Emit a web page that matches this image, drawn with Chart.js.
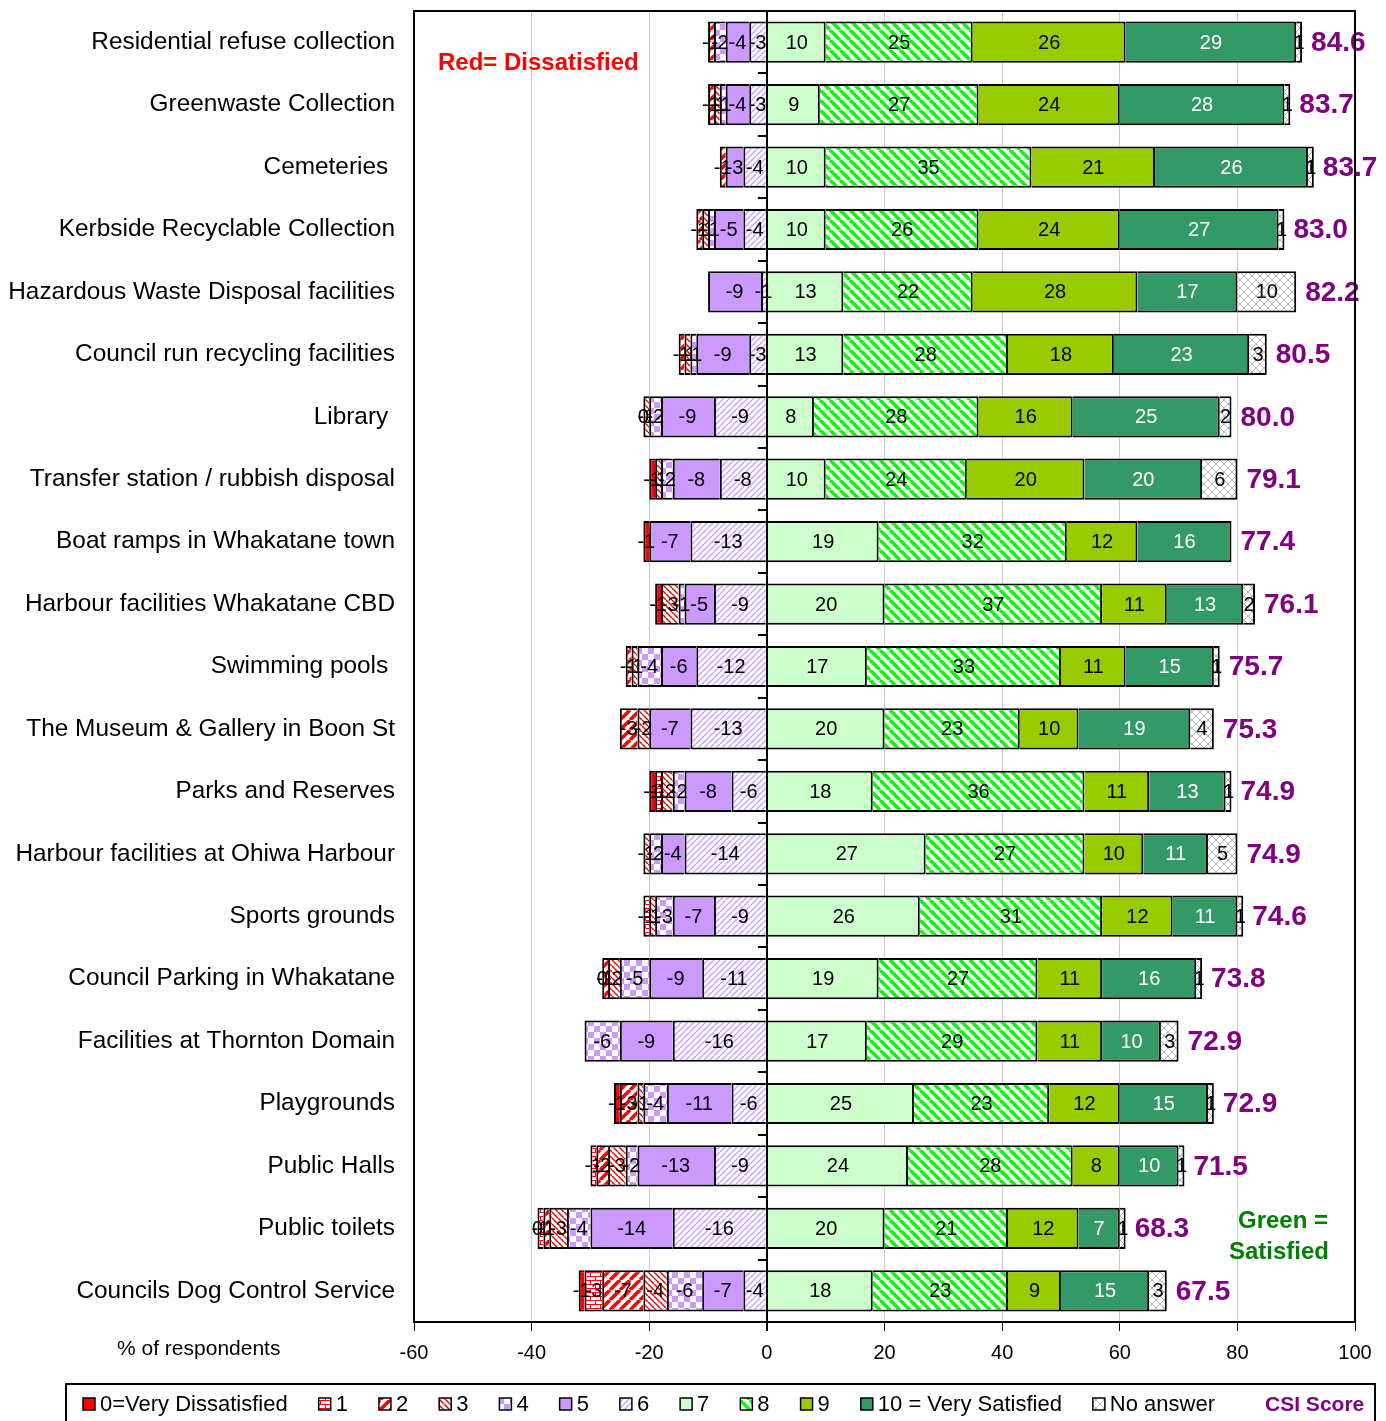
<!DOCTYPE html>
<html lang="en">
<head>
<meta charset="UTF-8">
<title>Satisfaction with council services</title>
<script src="https://cdn.jsdelivr.net/npm/chart.js@4.4.1/dist/chart.umd.min.js"></script>
<style>
	html, body { margin: 0; padding: 0; background: #fff; }
	canvas { display: block; }
</style>
</head>
<body>
<canvas id="pizarra" width="1386" height="1421"></canvas>
<script>
	// services, ordered by CSI score
	const servicios = ['Residential refuse collection', 'Greenwaste Collection', 'Cemeteries ',
		'Kerbside Recyclable Collection', 'Hazardous Waste Disposal facilities', 'Council run recycling facilities',
		'Library ', 'Transfer station / rubbish disposal', 'Boat ramps in Whakatane town',
		'Harbour facilities Whakatane CBD', 'Swimming pools ', 'The Museum & Gallery in Boon St',
		'Parks and Reserves', 'Harbour facilities at Ohiwa Harbour', 'Sports grounds',
		'Council Parking in Whakatane', 'Facilities at Thornton Domain', 'Playgrounds', 'Public Halls',
		'Public toilets', 'Councils Dog Control Service']

	// % of respondents per score (dissatisfied scores are negative)
	const s0 = [null, null, null, null, null, null, null, -1, -1, -1, null, null, -1, null, null, 0, null, -1, null, 0, -1]
	const s1 = [null, null, null, null, null, null, null, null, null, null, null, null, -1, null, -1, null, null, null, -1, -1, -3]
	const s2 = [-1, -1, -1, -1, null, -1, 0, null, null, null, -1, -3, null, null, null, -1, null, -3, -2, -1, -7]
	const s3 = [null, -1, null, -1, null, -1, -1, -1, null, -3, -1, -2, -2, -1, -1, -2, null, -1, -3, -3, -4]
	const s4 = [-2, -1, null, -1, null, -1, -2, -2, null, -1, -4, null, -2, -2, -3, -5, -6, -4, -2, -4, -6]
	const s5 = [-4, -4, -3, -5, -9, -9, -9, -8, -7, -5, -6, -7, -8, -4, -7, -9, -9, -11, -13, -14, -7]
	const s6 = [-3, -3, -4, -4, -1, -3, -9, -8, -13, -9, -12, -13, -6, -14, -9, -11, -16, -6, -9, -16, -4]
	const s7 = [10, 9, 10, 10, 13, 13, 8, 10, 19, 20, 17, 20, 18, 27, 26, 19, 17, 25, 24, 20, 18]
	const s8 = [25, 27, 35, 26, 22, 28, 28, 24, 32, 37, 33, 23, 36, 27, 31, 27, 29, 23, 28, 21, 23]
	const s9 = [26, 24, 21, 24, 28, 18, 16, 20, 12, 11, 11, 10, 11, 10, 12, 11, 11, 12, 8, 12, 9]
	const s10 = [29, 28, 26, 27, 17, 23, 25, 20, 16, 13, 15, 19, 13, 11, 11, 16, 10, 15, 10, 7, 15]
	const sinRespuesta = [1, 1, 1, 1, 10, 3, 2, 6, null, 2, 1, 4, 1, 5, 1, 1, 3, 1, 1, 1, 3]
	const csi = [84.6, 83.7, 83.7, 83.0, 82.2, 80.5, 80.0, 79.1, 77.4, 76.1, 75.7, 75.3, 74.9, 74.9, 74.6,
		73.8, 72.9, 72.9, 71.5, 68.3, 67.5]

	const ejeX = [-60, -40, -20, 0, 20, 40, 60, 80, 100]

	const FUENTE = "'Liberation Sans', Arial, sans-serif"

	// --- fill patterns ---
	const patron = (w, h, dibujar) => {
		const c = document.createElement('canvas')
		c.width = w
		c.height = h
		const g = c.getContext('2d')
		g.fillStyle = '#fff'
		g.fillRect(0, 0, w, h)
		dibujar(g, w, h)
		return g.createPattern(c, 'repeat')
	}
	const rayas = (color, s, lw, sube) => patron(s, s, (g) => {
		g.strokeStyle = color
		g.lineWidth = lw
		for (let k = -1; k <= 1; k++) {
			g.beginPath()
			if (sube) { g.moveTo(k * s, s); g.lineTo(k * s + s, 0) }
			else { g.moveTo(k * s, 0); g.lineTo(k * s + s, s) }
			g.stroke()
		}
	})

	const ladrillo = patron(10, 8, (g) => {
		g.fillStyle = '#ff0000'
		g.fillRect(0, 0, 10, 1)
		g.fillRect(0, 4, 10, 1)
		g.fillRect(0, 0, 1, 4)
		g.fillRect(5, 4, 1, 4)
	})
	const cuadros = patron(12, 12, (g) => {
		g.fillStyle = '#cc99ff'
		g.fillRect(0, 0, 6, 6)
		g.fillRect(6, 6, 6, 6)
	})
	const trama = patron(8, 8, (g) => {
		g.strokeStyle = '#b4b4b4'
		g.lineWidth = 1
		g.beginPath()
		g.moveTo(0, 0); g.lineTo(8, 8)
		g.moveTo(8, 0); g.lineTo(0, 8)
		g.stroke()
	})

	// series in stacking order: score 6 sits next to zero on the left side
	const series = [
		{ nombre: '6', datos: s6, fondo: rayas('#c9a2ff', 6, 1.5, true), orden: 6 },
		{ nombre: '5', datos: s5, fondo: '#cc99ff', orden: 5 },
		{ nombre: '4', datos: s4, fondo: cuadros, orden: 4 },
		{ nombre: '3', datos: s3, fondo: rayas('#ff0000', 6, 1.5, false), orden: 3 },
		{ nombre: '2', datos: s2, fondo: rayas('#ff0000', 10, 3.5, true), orden: 2 },
		{ nombre: '1', datos: s1, fondo: ladrillo, orden: 1 },
		{ nombre: '0=Very Dissatisfied', datos: s0, fondo: '#ff0000', orden: 0 },
		{ nombre: '7', datos: s7, fondo: '#ccffcc', orden: 7 },
		{ nombre: '8', datos: s8, fondo: rayas('#00ff00', 10, 3.5, false), orden: 8 },
		{ nombre: '9', datos: s9, fondo: '#99cc00', orden: 9 },
		{ nombre: '10 = Very Satisfied', datos: s10, fondo: '#339966', orden: 10, texto: '#fff' },
		{ nombre: 'No answer', datos: sinRespuesta, fondo: trama, orden: 11 }
	]

	// value labels, CSI scores, frame and the loose texts
	const extras = {
		id: 'extras',
		afterDatasetsDraw(chart) {
			const ctx = chart.ctx
			const area = chart.chartArea
			const x = chart.scales.x
			const y = chart.scales.y
			ctx.save()

			// value in each segment
			ctx.font = '20px ' + FUENTE
			ctx.textAlign = 'center'
			ctx.textBaseline = 'middle'
			chart.data.datasets.forEach((ds, i) => {
				const meta = chart.getDatasetMeta(i)
				ctx.fillStyle = ds.texto || '#000'
				meta.data.forEach((bar, j) => {
					const v = ds.data[j]
					if (v === null || v === undefined) return
					ctx.fillText(String(v), (bar.x + bar.base) / 2, bar.y + 1)
				})
			})

			// CSI score at the end of each bar
			ctx.font = 'bold 28px ' + FUENTE
			ctx.fillStyle = '#800080'
			ctx.textAlign = 'left'
			servicios.forEach((s, j) => {
				let total = 0
				chart.data.datasets.forEach(ds => { if (ds.data[j] > 0) total += ds.data[j] })
				ctx.fillText(csi[j].toFixed(1), x.getPixelForValue(total) + 9, y.getPixelForValue(j) + 1)
			})

			// plot frame
			ctx.strokeStyle = '#000'
			ctx.lineWidth = 2
			ctx.strokeRect(area.left, area.top, area.right - area.left, area.bottom - area.top)

			// category ticks on the zero line
			const x0 = x.getPixelForValue(0)
			const paso = (area.bottom - area.top) / servicios.length
			ctx.beginPath()
			for (let k = 0; k <= servicios.length; k++) {
				const yy = Math.round(area.top + k * paso)
				ctx.moveTo(x0 - 9, yy)
				ctx.lineTo(x0, yy)
			}
			ctx.stroke()

			ctx.font = 'bold 24px ' + FUENTE
			ctx.fillStyle = '#ff0000'
			ctx.fillText('Red= Dissatisfied', 438, 63)
			ctx.fillStyle = '#008000'
			ctx.textAlign = 'center'
			ctx.fillText('Green =', 1283, 1221)
			ctx.fillText('Satisfied', 1279, 1252)

			ctx.font = '21px ' + FUENTE
			ctx.fillStyle = '#000'
			ctx.textAlign = 'left'
			ctx.fillText('% of respondents', 117, 1349)

			ctx.restore()
		},
		afterDraw(chart) {
			// legend row inside a box along the bottom
			const ctx = chart.ctx
			ctx.save()
			ctx.strokeStyle = '#000'
			ctx.lineWidth = 2
			ctx.strokeRect(66, 1384, 1309, 60)
			ctx.font = '22px ' + FUENTE
			ctx.textBaseline = 'middle'
			ctx.textAlign = 'left'
			const yc = 1404
			let xx = 83
			const ordenados = chart.data.datasets.slice().sort((a, b) => a.orden - b.orden)
			ordenados.forEach(ds => {
				ctx.fillStyle = ds.backgroundColor
				ctx.fillRect(xx, yc - 6, 12, 12)
				ctx.lineWidth = 1.5
				ctx.strokeRect(xx, yc - 6, 12, 12)
				ctx.fillStyle = '#000'
				ctx.fillText(ds.label, xx + 17, yc + 1)
				xx += 17 + ctx.measureText(ds.label).width + 31
			})
			ctx.font = 'bold 21px ' + FUENTE
			ctx.fillStyle = '#800080'
			ctx.fillText('CSI Score', xx + 19, yc + 1)
			ctx.restore()
		}
	}

	const graficar = () => {
		const g = document.getElementById('pizarra')
		new Chart(g, {
			type: 'bar',
			data: {
				labels: servicios,
				datasets: series.map(s => ({
					label: s.nombre,
					data: s.datos,
					backgroundColor: s.fondo,
					borderColor: '#000',
					borderWidth: 2,
					barPercentage: 0.66,
					categoryPercentage: 1,
					orden: s.orden,
					texto: s.texto
				}))
			},
			options: {
				responsive: false,
				animation: false,
				devicePixelRatio: 1,
				indexAxis: 'y',
				layout: { padding: { top: 11, right: 31, left: 0, bottom: 0 } },
				scales: {
					x: {
						stacked: true,
						min: ejeX[0],
						max: ejeX[ejeX.length - 1],
						afterBuildTicks: (s) => { s.ticks = ejeX.map(v => ({ value: v })) },
						afterFit: (s) => { s.height = 99 },
						ticks: { color: '#000', font: { family: FUENTE, size: 20 }, padding: 10 },
						grid: {
							color: (c) => (c.tick && c.tick.value === 0) ? '#000' : '#cccccc',
							lineWidth: (c) => (c.tick && c.tick.value === 0) ? 2 : 1,
							tickColor: '#000',
							tickLength: 9
						},
						border: { color: '#000', width: 2 }
					},
					y: {
						stacked: true,
						afterFit: (s) => {
							s.width = 414
							s.paddingTop = 0
							s.paddingBottom = 0
						},
						ticks: { color: '#000', font: { family: FUENTE, size: 24.4 }, padding: 19 },
						grid: { display: false, drawTicks: false },
						border: { color: '#000', width: 2 }
					}
				},
				plugins: {
					legend: { display: false },
					tooltip: { enabled: false }
				}
			},
			plugins: [extras]
		})
	}

	graficar()
</script>
</body>
</html>
